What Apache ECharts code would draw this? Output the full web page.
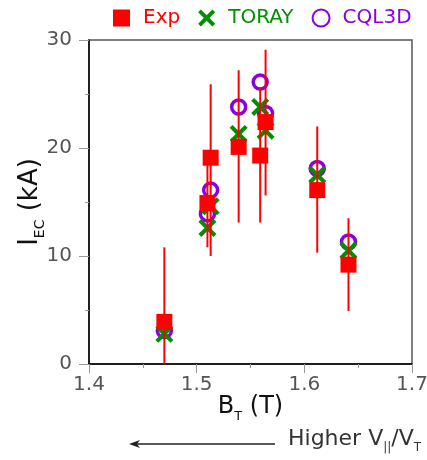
<!DOCTYPE html>
<html>
<head>
<meta charset="utf-8">
<script src="https://cdn.jsdelivr.net/npm/echarts@6/dist/echarts.min.js"></script>
<style>
  html, body { margin: 0; padding: 0; background: #fff; }
  #chart { width: 427px; height: 460px; }
</style>
</head>
<body>
<div id="chart"></div>
<script>
// Toroidal field scan: measured vs. modelled EC-driven current
const fieldT   = [1.47, 1.51, 1.513, 1.539, 1.559, 1.564, 1.612, 1.641];
const expCur   = [3.9, 14.9, 19.1, 20.1, 19.3, 22.4, 16.1, 9.2];
const expLow   = [0, 10.8, 10.0, 13.1, 13.1, 15.6, 10.3, 4.9];
const expHigh  = [10.8, 19.0, 25.9, 27.2, 25.6, 29.1, 22.0, 13.5];
const torayCur = [2.8, 12.6, 14.6, 21.3, 23.8, 21.6, 17.5, 10.5];
const cql3dCur = [3.1, 13.9, 16.1, 23.8, 26.1, 23.2, 18.1, 11.3];
const xTicks = ['1.4', '1.5', '1.6', '1.7'];
const yTicks = ['0', '10', '20', '30'];

const RED = '#ff0000', GREEN = '#008f00', PURPLE = '#8a00e0';
const FONT = 'DejaVu Sans';
const CROSS = 'path://M0,1.6L1.6,0L5,3.4L8.4,0L10,1.6L6.6,5L10,8.4L8.4,10L5,6.6L1.6,10L0,8.4L3.4,5Z';

const pairs = (ys) => fieldT.map((x, i) => [x, ys[i]]);

const chart = echarts.init(document.getElementById('chart'), null, { renderer: 'canvas' });
chart.setOption({
  animation: false,
  textStyle: { fontFamily: FONT },
  grid: { left: 89, right: 15, top: 40, bottom: 96, containLabel: false, outerBoundsMode: 'none',
          show: true, borderColor: '#555', borderWidth: 1.5, backgroundColor: 'transparent' },
  legend: {
    top: 3, left: 108, itemWidth: 17, itemHeight: 17, itemGap: 18,
    textStyle: { fontFamily: FONT, fontSize: 20, padding: [0, 0, 0, 8] },
    data: [
      { name: 'Exp', textStyle: { color: RED } },
      { name: 'TORAY', textStyle: { color: GREEN } },
      { name: 'CQL3D', textStyle: { color: PURPLE } }
    ]
  },
  xAxis: {
    type: 'value', min: 1.4, max: 1.7, interval: 0.1,
    name: '{a|B}{b|T}{a| (T)}', nameLocation: 'middle', nameGap: 31, nameMoveOverlap: false,
    nameTextStyle: { rich: {
      a: { fontFamily: FONT, fontSize: 24, color: '#111', verticalAlign: 'bottom' },
      b: { fontFamily: FONT, fontSize: 13, color: '#111', verticalAlign: 'bottom', padding: [0, 0, -4, 0] }
    } },
    axisLine: { onZero: false, lineStyle: { color: '#000', width: 1.5 } },
    axisTick: { length: 9, lineStyle: { color: '#999', width: 1 } },
    minorTick: { show: true, splitNumber: 2, length: 4, lineStyle: { color: '#999' } },
    splitLine: { show: false },
    axisLabel: { fontSize: 20, color: '#555', margin: 11,
      formatter: (v) => xTicks.find(t => Math.abs(parseFloat(t) - v) < 1e-6) || '' }
  },
  yAxis: {
    type: 'value', min: 0, max: 30, interval: 10,
    name: '{a|I}{b|EC}{a| (kA)}', nameLocation: 'middle', nameGap: 46, nameRotate: 90, nameMoveOverlap: false,
    nameTextStyle: { rich: {
      a: { fontFamily: FONT, fontSize: 26, color: '#111', verticalAlign: 'bottom' },
      b: { fontFamily: FONT, fontSize: 14, color: '#111', verticalAlign: 'bottom', padding: [0, 0, -4, 0] }
    } },
    axisLine: { onZero: false, lineStyle: { color: '#000', width: 1.5 } },
    axisTick: { length: 10, lineStyle: { color: '#999', width: 1 } },
    minorTick: { show: true, splitNumber: 2, length: 4, lineStyle: { color: '#999' } },
    splitLine: { show: false },
    axisLabel: { fontSize: 20, color: '#555', margin: 17,
      formatter: (v) => yTicks.find(t => Math.abs(parseFloat(t) - v) < 1e-6) || '' }
  },
  series: [
    {
      name: 'CQL3D', type: 'scatter', z: 2, symbol: 'circle', symbolSize: 14,
      itemStyle: { color: 'transparent', borderColor: PURPLE, borderWidth: 3.5, opacity: 1 },
      data: pairs(cql3dCur)
    },
    {
      name: 'TORAY', type: 'scatter', z: 3, symbol: CROSS, symbolSize: 18,
      itemStyle: { color: GREEN, opacity: 1 },
      data: pairs(torayCur)
    },
    {
      name: 'Exp', type: 'scatter', z: 4, symbol: 'rect', symbolSize: 16,
      itemStyle: { color: RED, opacity: 1 },
      data: pairs(expCur)
    },
    {
      name: 'ExpErr', type: 'custom', z: 5, silent: true, clip: true,
      data: fieldT.map((x, i) => [x, expLow[i], expHigh[i]]),
      renderItem: (params, api) => {
        const p0 = api.coord([api.value(0), api.value(1)]);
        const p1 = api.coord([api.value(0), api.value(2)]);
        return { type: 'line', shape: { x1: p0[0], y1: p0[1], x2: p1[0], y2: p1[1] },
                 style: { stroke: RED, lineWidth: 2 } };
      }
    }
  ],
  graphic: [
    { type: 'line', shape: { x1: 275, y1: 444, x2: 136, y2: 444 }, style: { stroke: '#222', lineWidth: 1.5 } },
    { type: 'polygon', shape: { points: [[129, 444], [140, 440], [137, 444], [140, 448]] }, style: { fill: '#222' } },
    {
      type: 'text', left: 288, top: 428,
      style: {
        text: '{a|Higher V}{b|||}{a|/V}{b|T}',
        rich: {
          a: { fontFamily: FONT, fontSize: 22, fill: '#333', verticalAlign: 'bottom' },
          b: { fontFamily: FONT, fontSize: 12, fill: '#333', verticalAlign: 'bottom', padding: [0, 0, -4, 0] }
        }
      }
    }
  ]
});
</script>
</body>
</html>
